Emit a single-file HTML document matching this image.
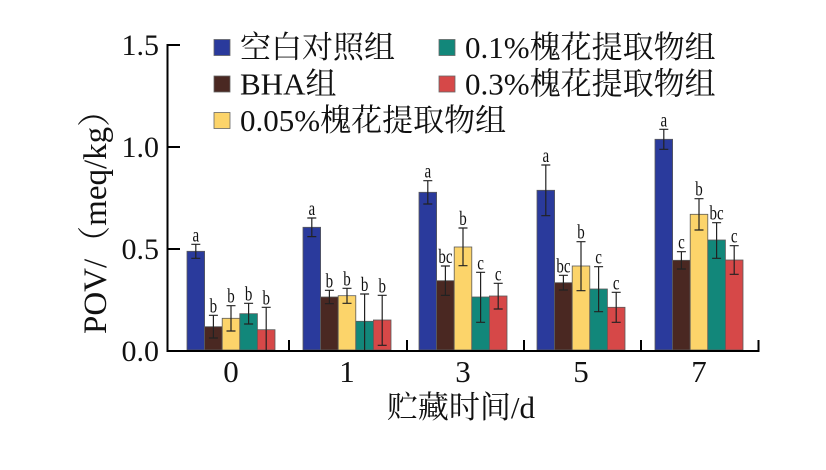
<!DOCTYPE html>
<html>
<head>
<meta charset="utf-8">
<style>
  html, body { margin:0; padding:0; background:#ffffff; }
  body { width:826px; height:470px; overflow:hidden; }
  svg { display:block; }
  .t { font-family: "Liberation Serif", "Noto Serif CJK SC", serif; fill:#111; }
  .lt { font-family: "Liberation Serif", serif; font-size:15px; fill:#111; }
</style>
</head>
<body>
<svg width="826" height="470" viewBox="0 0 826 470" xmlns="http://www.w3.org/2000/svg">
  <rect x="0" y="0" width="826" height="470" fill="#ffffff"/>

  <!-- Bars -->
  <g stroke="#5a5a5a" stroke-width="0.8">
    <!-- Group 0 -->
    <rect x="187" y="251.3" width="17.6" height="98.7" fill="#2A3A9C"/>
    <rect x="204.6" y="326.7" width="17.6" height="23.3" fill="#4A2822"/>
    <rect x="222.2" y="318.3" width="17.6" height="31.7" fill="#FCD46A"/>
    <rect x="239.8" y="313.7" width="17.6" height="36.3" fill="#12877A"/>
    <rect x="257.4" y="329.7" width="17.6" height="20.3" fill="#D64848"/>
    <!-- Group 1 -->
    <rect x="303" y="227.3" width="17.6" height="122.7" fill="#2A3A9C"/>
    <rect x="320.6" y="297" width="17.6" height="53" fill="#4A2822"/>
    <rect x="338.2" y="295.7" width="17.6" height="54.3" fill="#FCD46A"/>
    <rect x="355.8" y="321.3" width="17.6" height="28.7" fill="#12877A"/>
    <rect x="373.4" y="320" width="17.6" height="30" fill="#D64848"/>
    <!-- Group 3 -->
    <rect x="419" y="192.3" width="17.6" height="157.7" fill="#2A3A9C"/>
    <rect x="436.6" y="280.7" width="17.6" height="69.3" fill="#4A2822"/>
    <rect x="454.2" y="247" width="17.6" height="103" fill="#FCD46A"/>
    <rect x="471.8" y="297" width="17.6" height="53" fill="#12877A"/>
    <rect x="489.4" y="296" width="17.6" height="54" fill="#D64848"/>
    <!-- Group 5 -->
    <rect x="537" y="190.3" width="17.6" height="159.7" fill="#2A3A9C"/>
    <rect x="554.6" y="282.7" width="17.6" height="67.3" fill="#4A2822"/>
    <rect x="572.2" y="266" width="17.6" height="84" fill="#FCD46A"/>
    <rect x="589.8" y="289" width="17.6" height="61" fill="#12877A"/>
    <rect x="607.4" y="307.3" width="17.6" height="42.7" fill="#D64848"/>
    <!-- Group 7 -->
    <rect x="655" y="139.3" width="17.6" height="210.7" fill="#2A3A9C"/>
    <rect x="672.6" y="260.3" width="17.6" height="89.7" fill="#4A2822"/>
    <rect x="690.2" y="214.3" width="17.6" height="135.7" fill="#FCD46A"/>
    <rect x="707.8" y="240" width="17.6" height="110" fill="#12877A"/>
    <rect x="725.4" y="260" width="17.6" height="90" fill="#D64848"/>
  </g>

  <!-- Error bars -->
  <g stroke="#222" stroke-width="1.2" fill="none">
    <path d="M195.8 244.3V258.3M191.3 244.3H200.3M191.3 258.3H200.3"/>
    <path d="M213.4 315.3V338M208.9 315.3H217.9M208.9 338H217.9"/>
    <path d="M231 305.7V331M226.5 305.7H235.5M226.5 331H235.5"/>
    <path d="M248.6 303.3V324M244.1 303.3H253.1M244.1 324H253.1"/>
    <path d="M266.2 307.3V352M261.7 307.3H270.7"/>

    <path d="M311.8 218V236.6M307.3 218H316.3M307.3 236.6H316.3"/>
    <path d="M329.4 290.3V303.7M324.9 290.3H333.9M324.9 303.7H333.9"/>
    <path d="M347 288.3V303.3M342.5 288.3H351.5M342.5 303.3H351.5"/>
    <path d="M364.6 294V350M360.1 294H369.1"/>
    <path d="M382.2 295.3V345.3M377.7 295.3H386.7M377.7 345.3H386.7"/>

    <path d="M427.8 180.7V204M423.3 180.7H432.3M423.3 204H432.3"/>
    <path d="M445.4 266V295.4M440.9 266H449.9M440.9 295.4H449.9"/>
    <path d="M463 228V265.7M458.5 228H467.5M458.5 265.7H467.5"/>
    <path d="M480.6 272.3V322.3M476.1 272.3H485.1M476.1 322.3H485.1"/>
    <path d="M498.2 283.3V309M493.7 283.3H502.7M493.7 309H502.7"/>

    <path d="M545.8 165V215.7M541.3 165H550.3M541.3 215.7H550.3"/>
    <path d="M563.4 275.3V290M558.9 275.3H567.9M558.9 290H567.9"/>
    <path d="M581 241.7V290.7M576.5 241.7H585.5M576.5 290.7H585.5"/>
    <path d="M598.6 266.7V311.7M594.1 266.7H603.1M594.1 311.7H603.1"/>
    <path d="M616.2 292.3V322.3M611.7 292.3H620.7M611.7 322.3H620.7"/>

    <path d="M663.8 129.3V149.3M659.3 129.3H668.3M659.3 149.3H668.3"/>
    <path d="M681.4 251.7V269M676.9 251.7H685.9M676.9 269H685.9"/>
    <path d="M699 198.7V230M694.5 198.7H703.5M694.5 230H703.5"/>
    <path d="M716.6 222.7V258.3M712.1 222.7H721.1M712.1 258.3H721.1"/>
    <path d="M734.2 245.7V274.3M729.7 245.7H738.7M729.7 274.3H738.7"/>
  </g>

  <!-- Significance letters -->
  <g class="lt" text-anchor="middle">
    <text transform="translate(195.8,241.3) scale(1,1.3)">a</text>
    <text transform="translate(213.4,312.3) scale(1,1.3)">b</text>
    <text transform="translate(231,302.7) scale(1,1.3)">b</text>
    <text transform="translate(248.6,300.3) scale(1,1.3)">b</text>
    <text transform="translate(266.2,304.3) scale(1,1.3)">b</text>

    <text transform="translate(311.8,215) scale(1,1.3)">a</text>
    <text transform="translate(329.4,287.3) scale(1,1.3)">b</text>
    <text transform="translate(347,285.3) scale(1,1.3)">b</text>
    <text transform="translate(364.6,291) scale(1,1.3)">b</text>
    <text transform="translate(382.2,292.3) scale(1,1.3)">b</text>

    <text transform="translate(427.8,177.7) scale(1,1.3)">a</text>
    <text transform="translate(445.4,263) scale(1,1.3)">bc</text>
    <text transform="translate(463,225) scale(1,1.3)">b</text>
    <text transform="translate(480.6,269.3) scale(1,1.3)">c</text>
    <text transform="translate(498.2,280.3) scale(1,1.3)">c</text>

    <text transform="translate(545.8,162) scale(1,1.3)">a</text>
    <text transform="translate(563.4,272.3) scale(1,1.3)">bc</text>
    <text transform="translate(581,238.7) scale(1,1.3)">b</text>
    <text transform="translate(598.6,263.7) scale(1,1.3)">c</text>
    <text transform="translate(616.2,289.3) scale(1,1.3)">c</text>

    <text transform="translate(663.8,126.3) scale(1,1.3)">a</text>
    <text transform="translate(681.4,248.7) scale(1,1.3)">c</text>
    <text transform="translate(699,195.7) scale(1,1.3)">b</text>
    <text transform="translate(716.6,219.7) scale(1,1.3)">bc</text>
    <text transform="translate(734.2,242.7) scale(1,1.3)">c</text>
  </g>

  <!-- Axes -->
  <g stroke="#000" stroke-width="2" fill="none">
    <path d="M167.5 44V352"/>
    <path d="M166.5 351H759.5"/>
    <path d="M167 45H180M167 147H180M167 249H180"/>
    <path d="M289 351V340M407 351V340M524 351V340M641 351V340M758.5 351V340"/>
  </g>

  <!-- Y tick labels -->
  <g class="t" font-size="30" text-anchor="end">
    <text x="159" y="55">1.5</text>
    <text x="159" y="157">1.0</text>
    <text x="159" y="259">0.5</text>
    <text x="159" y="361">0.0</text>
  </g>

  <!-- X tick labels -->
  <g class="t" font-size="31" text-anchor="middle">
    <text x="231" y="382">0</text>
    <text x="347" y="382">1</text>
    <text x="463" y="382">3</text>
    <text x="581" y="382">5</text>
    <text x="699" y="382">7</text>
  </g>

  <!-- Axis titles -->
  <text class="t" font-size="31" x="461" y="418" text-anchor="middle">贮藏时间/d</text>
  <text class="t" font-size="33" transform="translate(106,334) rotate(-90)">POV/（meq/kg）</text>

  <!-- Legend -->
  <g stroke="#666" stroke-width="0.8">
    <rect x="214" y="39.5" width="16" height="16" fill="#2A3A9C"/>
    <rect x="214" y="76" width="16" height="16" fill="#4A2822"/>
    <rect x="214" y="112.5" width="16" height="16" fill="#FCD46A"/>
    <rect x="439" y="39.5" width="16" height="16" fill="#12877A"/>
    <rect x="439" y="76" width="16" height="16" fill="#D64848"/>
  </g>
  <g class="t" font-size="31">
    <text x="240" y="58">空白对照组</text>
    <text x="240" y="94.5">BHA组</text>
    <text x="240" y="131">0.05%槐花提取物组</text>
    <text x="465" y="58">0.1%槐花提取物组</text>
    <text x="465" y="94.5">0.3%槐花提取物组</text>
  </g>
</svg>
</body>
</html>
